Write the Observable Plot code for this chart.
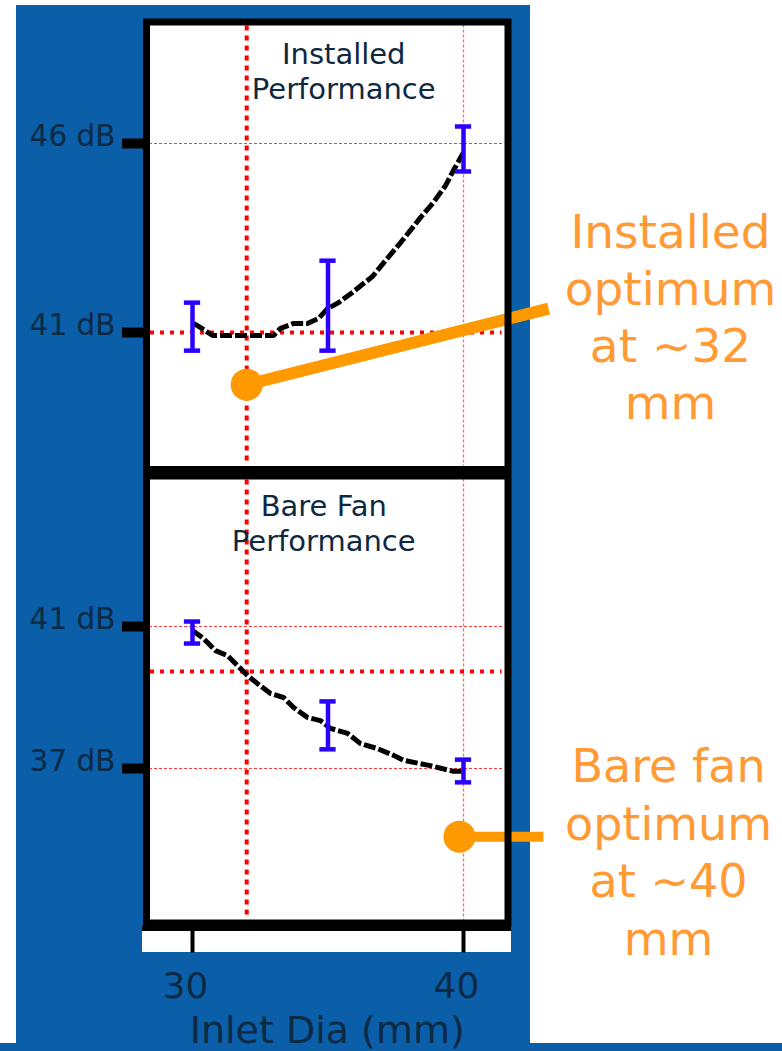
<!DOCTYPE html>
<html>
<head>
<meta charset="utf-8">
<script src="https://cdn.jsdelivr.net/npm/d3@7"></script>
<script src="https://cdn.jsdelivr.net/npm/@observablehq/plot@0.6"></script>
<style>
  html, body { margin: 0; padding: 0; background: #fff; }
  #page { position: relative; width: 782px; height: 1051px; overflow: hidden; background: #fff; font-family: "DejaVu Sans", Verdana, sans-serif; }
  #bluePanel { position: absolute; left: 16px; top: 5px; width: 514px; height: 1046px; background: #0b5ea8; }
  #blueStrip { position: absolute; left: 0; top: 1043px; width: 782px; height: 8px; background: #0b5ea8; }
  #axisStrip { position: absolute; left: 142px; top: 926px; width: 369px; height: 26px; box-sizing: border-box; border-top: 5px solid #000; background: #fff; }
  .layer { position: absolute; left: 0; top: 0; }
</style>
</head>
<body>
<div id="page">
  <div id="bluePanel"></div>
  <div id="blueStrip"></div>
  <div id="axisStrip"></div>
  <div id="topChart" class="layer"></div>
  <div id="botChart" class="layer"></div>
</div>
<script>
// ---------- data ----------
const xTicks = [30, 40];
const topYTicks = [41, 46];
const botYTicks = [37, 41];

const topTitle = "Installed\nPerformance";
const botTitle = "Bare Fan\nPerformance";
const xLabel = "Inlet Dia (mm)";
const topNote = "Installed\noptimum\nat ~32\nmm";
const botNote = "Bare fan\noptimum\nat ~40\nmm";

// installed performance curve (mm, dB)
const topLineX = [30.04, 30.30, 30.74, 32.99, 33.25, 33.73, 34.24, 34.65, 34.98, 35.39, 35.90, 36.64, 37.12, 37.68, 38.04, 38.41, 38.89, 39.34, 39.63, 40.00];
const topLineY = [41.24, 41.13, 40.92, 40.92, 41.11, 41.24, 41.24, 41.37, 41.63, 41.79, 42.06, 42.48, 42.90, 43.38, 43.70, 44.04, 44.44, 44.89, 45.29, 45.76];
const topErrX = [30, 35, 40];
const topErrLo = [40.52, 40.52, 45.26];
const topErrHi = [41.79, 42.90, 46.45];
const topGridY = [46];
const topRefY = [41];

// bare fan performance curve (mm, dB)
const botLineX = [30.00, 30.41, 30.85, 31.29, 31.66, 32.03, 32.40, 32.88, 33.36, 33.73, 34.24, 34.72, 35.09, 35.72, 36.20, 36.83, 37.42, 37.79, 38.78, 39.63, 40.00];
const botLineY = [40.89, 40.66, 40.32, 40.18, 39.90, 39.62, 39.39, 39.11, 39.00, 38.72, 38.44, 38.35, 38.13, 37.99, 37.70, 37.56, 37.37, 37.23, 37.08, 36.92, 36.92];
const botErrX = [30, 35, 40];
const botErrLo = [40.52, 37.54, 36.61];
const botErrHi = [41.14, 38.89, 37.25];
const botGridY = [41, 37];
const botRefY = [39.73];

const optimumX = [32];   // thick vertical marker (installed optimum)
const gridX = [40];      // thin vertical marker

// annotation pointers: [x, y, x2, y2]
const topPointer = [32, 39.62, 43.14, 41.63];
const botPointer = [39.85, 35.08, 42.95, 35.08];

// ---------- build tables ----------
const topLine = topLineX.map((x, i) => ({x, y: topLineY[i]}));
const botLine = botLineX.map((x, i) => ({x, y: botLineY[i]}));
const topErr = topErrX.map((x, i) => ({x, lo: topErrLo[i], hi: topErrHi[i]}));
const botErr = botErrX.map((x, i) => ({x, lo: botErrLo[i], hi: botErrHi[i]}));
const toPtr = p => [{x: p[0], y: p[1], x2: p[2], y2: p[3]}];

const NAVY = "#0d2a45";
const RED = "#ff0000";
const THINRED = "#ff3b3b";
const BLUE = "#2b00ff";
const ORANGE = "#ff9900";
const NOTE = "#ff9a35";
const W = 782, H = 1051;
const capHalf = 0.3;

function errMarks(err) {
  return [
    Plot.ruleX(err, {x: "x", y1: "lo", y2: "hi", stroke: BLUE, strokeWidth: 4.5}),
    Plot.ruleY(err, {y: "lo", x1: d => d.x - capHalf, x2: d => d.x + capHalf, stroke: BLUE, strokeWidth: 4.5}),
    Plot.ruleY(err, {y: "hi", x1: d => d.x - capHalf, x2: d => d.x + capHalf, stroke: BLUE, strokeWidth: 4.5})
  ];
}

function panel({yDomain, yRange, mTop, mBottom, line, err, gridY, refY, yTicks, title, titleDx, titleDy, note, noteDx, noteDy, noteSize, noteLH, ptr, ptrWidth, withX}) {
  const marks = [
    Plot.frame({fill: "white", stroke: "none"}),
    Plot.ruleY(gridY, {stroke: THINRED, strokeWidth: 1, strokeDasharray: "3,2", insetLeft: 3, insetRight: 3}),
    Plot.ruleX(gridX, {stroke: "#ff6a6a", strokeWidth: 1.3, strokeDasharray: "3,2", insetTop: 3, insetBottom: 3}),
    Plot.ruleY(refY, {stroke: RED, strokeWidth: 4, strokeDasharray: "4,6", strokeLinecap: "butt", insetLeft: 4, insetRight: 6}),
    Plot.ruleX(optimumX, {stroke: RED, strokeWidth: 4, strokeDasharray: "5,5", strokeLinecap: "butt", insetTop: 4, insetBottom: 4}),
    Plot.line(line, {x: "x", y: "y", stroke: "black", strokeWidth: 5, strokeDasharray: "12,3", strokeLinecap: "butt", strokeLinejoin: "miter"}),
    ...errMarks(err),
    Plot.link(toPtr(ptr), {x1: "x", y1: "y", x2: "x2", y2: "y2", stroke: ORANGE, strokeWidth: ptrWidth, strokeLinecap: "butt"}),
    Plot.dot(toPtr(ptr), {x: "x", y: "y", r: 16, fill: ORANGE}),
    Plot.frame({stroke: "black", strokeWidth: 7, fill: "none"}),
    Plot.axisY(yTicks, {tickSize: 24, strokeWidth: 10, stroke: "black", fill: "none", label: null}),
    Plot.axisY(yTicks, {tickSize: 0, tickPadding: 31, dy: -7, fill: NAVY, fontSize: 29.5, tickFormat: d => `${d} dB`, label: null}),
    Plot.text([title], {text: d => d, frameAnchor: "top", lineAnchor: "top", dx: titleDx, dy: titleDy, fontSize: 29, lineHeight: 1.22, fill: "#0e2841"}),
    Plot.text([note], {text: d => d, frameAnchor: "top-right", textAnchor: "middle", lineAnchor: "top", dx: noteDx, dy: noteDy, fontSize: noteSize, lineHeight: noteLH, fill: NOTE})
  ];
  if (withX) {
    marks.push(
      Plot.axisX(xTicks, {tickSize: 30, strokeWidth: 4, stroke: "black", fill: "none", label: null}),
      Plot.axisX(xTicks, {tickSize: 0, tickPadding: 49, dx: -7, fill: NAVY, fontSize: 36, label: null}),
      Plot.text([xLabel], {text: d => d, frameAnchor: "bottom", lineAnchor: "top", dy: 93, fontSize: 38, fill: NAVY})
    );
  }
  return Plot.plot({
    width: W,
    height: H,
    marginLeft: 146,
    marginRight: W - 507.5,
    marginTop: mTop,
    marginBottom: H - mBottom,
    x: {domain: [30, 40], range: [192, 463], axis: null},
    y: {domain: yDomain, range: yRange, axis: null},
    style: {background: "transparent", fontFamily: "'DejaVu Sans', Verdana, sans-serif", overflow: "visible"},
    marks
  });
}

const topPanel = panel({
  yDomain: [41, 46], yRange: [332, 143], mTop: 21.5, mBottom: 469,
  line: topLine, err: topErr, gridY: topGridY, refY: topRefY, yTicks: topYTicks,
  title: topTitle, titleDx: 16.5, titleDy: 16.5,
  note: topNote, noteDx: 162.5, noteDy: 185.5, noteSize: 47, noteLH: 1.214,
  ptr: topPointer, ptrWidth: 12, withX: false
});
const botPanel = panel({
  yDomain: [37, 41], yRange: [768, 626], mTop: 475.5, mBottom: 922.5,
  line: botLine, err: botErr, gridY: botGridY, refY: botRefY, yTicks: botYTicks,
  title: botTitle, titleDx: -3.5, titleDy: 14.5,
  note: botNote, noteDx: 160.5, noteDy: 265, noteSize: 46, noteLH: 1.255,
  ptr: botPointer, ptrWidth: 10, withX: true
});
document.getElementById("topChart").appendChild(topPanel);
document.getElementById("botChart").appendChild(botPanel);
</script>
</body>
</html>
